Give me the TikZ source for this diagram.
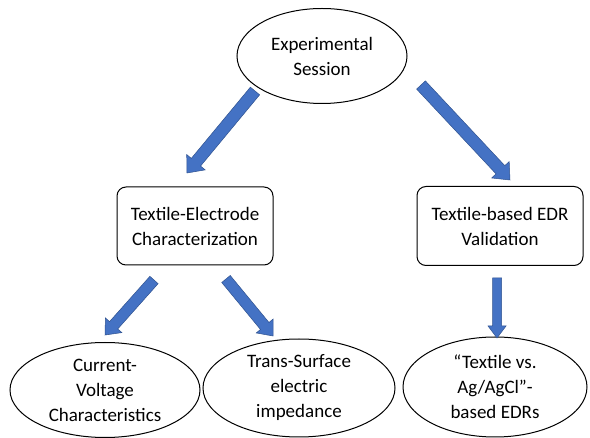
\documentclass[tikz,border=0pt]{standalone}
\usepackage{fontspec}
\setmainfont{Carlito}
\usetikzlibrary{shapes.geometric,calc}
\definecolor{arrowfill}{HTML}{4472C4}
\definecolor{arrowline}{HTML}{2F528F}
\tikzset{
  oval/.style={ellipse,draw=black,line width=1pt,inner sep=0pt,align=center,font=\fontsize{19}{25}\selectfont},
  rbox/.style={rectangle,rounded corners=9pt,draw=black,line width=1pt,inner sep=0pt,align=center,font=\fontsize{19}{25}\selectfont},
  barrow/.style={fill=arrowfill,draw=arrowline,line width=0.5pt,line join=miter}
}
% #1 shaft half width, #2 head half width, #3 head length, #4 from, #5 to
\newcommand{\blockarrow}[5]{%
  \coordinate (ha) at ($(#5)!#3!(#4)$);
  \draw[barrow] ($(#4)!#1!90:(#5)$) -- ($(ha)!#1!90:(#5)$) -- ($(ha)!#2!90:(#5)$) -- (#5)
    -- ($(ha)!#2!-90:(#5)$) -- ($(ha)!#1!-90:(#5)$) -- ($(#4)!#1!-90:(#5)$) -- cycle;}
\begin{document}
\begin{tikzpicture}[x=1pt,y=-1pt]
\useasboundingbox (0,0) rectangle (590,438);
\node[oval,minimum width=170pt,minimum height=95pt] (top) at (322,56) {Experimental\\Session};
\node[rbox,minimum width=156pt,minimum height=78pt] (tec) at (195,226) {Textile-Electrode\\Characterization};
\node[rbox,minimum width=166pt,minimum height=79pt] (edr) at (500,226) {Textile-based EDR\\Validation};
\node[oval,minimum width=190pt,minimum height=95pt] (iv) at (105,390) {Current-\\Voltage\\Characteristics};
\node[oval,minimum width=192pt,minimum height=98pt] (tsi) at (299,388) {Trans-Surface\\electric\\impedance};
\node[oval,minimum width=184pt,minimum height=100pt] (agcl) at (495,387) {“Textile vs.\\Ag/AgCl”-\\based EDRs};
\coordinate (a1s) at (255,91);  \coordinate (a1e) at (187,173);
\coordinate (a2s) at (421,85);  \coordinate (a2e) at (510,180);
\coordinate (a3s) at (154,280); \coordinate (a3e) at (105,335);
\coordinate (a4s) at (226,279); \coordinate (a4e) at (273,336);
\coordinate (a5s) at (497,278); \coordinate (a5e) at (497,338);
\blockarrow{6pt}{12pt}{14pt}{a1s}{a1e}
\blockarrow{6pt}{12pt}{14pt}{a2s}{a2e}
\blockarrow{5.5pt}{11pt}{13pt}{a3s}{a3e}
\blockarrow{5.5pt}{11pt}{13pt}{a4s}{a4e}
\blockarrow{4.5pt}{9pt}{12pt}{a5s}{a5e}
\end{tikzpicture}
\end{document}
